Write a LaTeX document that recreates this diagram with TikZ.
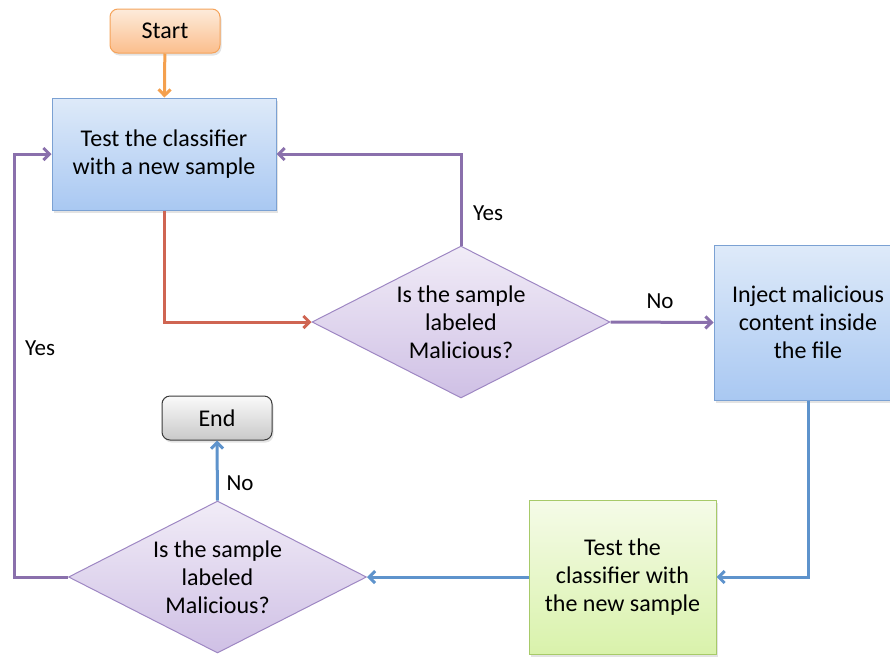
\documentclass[tikz,border=0pt]{standalone}
\usepackage{fontspec}
\setmainfont{Carlito}
\usetikzlibrary{shapes.geometric,arrows.meta,shadows}

\definecolor{orangeTop}{HTML}{FDEBDB}
\definecolor{orangeBot}{HTML}{FBBE8C}
\definecolor{orangeLine}{HTML}{F5A35A}
\definecolor{blueTop}{HTML}{DEEAF9}
\definecolor{blueBot}{HTML}{A9C8F2}
\definecolor{blueLine}{HTML}{7BA1D3}
\definecolor{lilacTop}{HTML}{F1ECF7}
\definecolor{lilacBot}{HTML}{CFC0E5}
\definecolor{lilacLine}{HTML}{9E87C3}
\definecolor{greenTop}{HTML}{F5FBE8}
\definecolor{greenBot}{HTML}{D9F2AB}
\definecolor{greenLine}{HTML}{A7CA69}
\definecolor{greyTop}{HTML}{FAFAFA}
\definecolor{greyBot}{HTML}{C9C9C9}
\definecolor{greyLine}{HTML}{3A3A3A}
\definecolor{flowOrange}{HTML}{F4A04E}
\definecolor{flowRed}{HTML}{CF6552}
\definecolor{flowPurple}{HTML}{8A70AC}
\definecolor{flowBlue}{HTML}{5E93CC}

\tikzset{
  every node/.style={font=\fontsize{24}{28}\selectfont, align=center},
  softshadow/.style={drop shadow={opacity=0.22, shadow xshift=1.5pt, shadow yshift=-2.5pt}},
  terminal/.style={rectangle, rounded corners=8pt, minimum width=110pt, minimum height=44pt,
    line width=1pt, softshadow},
  procbox/.style={rectangle, line width=1pt, softshadow, inner sep=4pt},
  decision/.style={diamond, minimum width=298pt, minimum height=152pt, inner sep=0pt,
    line width=1pt, draw=lilacLine, top color=lilacTop, bottom color=lilacBot},
  flow/.style={line width=3pt, -{Straight Barb[length=6pt,width=12pt]}},
  tag/.style={font=\fontsize{23}{27}\selectfont},
}

\begin{document}
\begin{tikzpicture}[x=1pt, y=-1pt]
  \useasboundingbox (0,0) rectangle (890,656);
  \begin{scope}
  \clip (0,0) rectangle (890,656);

  % terminals
  \node[terminal, draw=orangeLine, top color=orangeTop, bottom color=orangeBot] (start) at (165,31) {Start};
  \node[terminal, draw=greyLine, top color=greyTop, bottom color=greyBot] (finish) at (217,418) {End};

  % process steps
  \node[procbox, draw=blueLine, top color=blueTop, bottom color=blueBot,
        minimum width=224pt, minimum height=112pt] (test) at (164,154)
        {Test the classifier\\with a new sample};
  \node[procbox, draw=blueLine, top color=blueTop, bottom color=blueBot,
        minimum width=188pt, minimum height=155pt] (inject) at (808,322.5)
        {Inject malicious\\content inside\\the file};
  \node[procbox, draw=greenLine, top color=greenTop, bottom color=greenBot,
        minimum width=187pt, minimum height=154pt] (retest) at (622.5,577)
        {Test the\\classifier with\\the new sample};

  % decisions
  \node[decision] (check) at (461,322) {};
  \node (checktext) at (check.center) {Is the sample\\labeled\\Malicious?};
  \node[decision] (recheck) at (217.5,577) {};
  \node (rechecktext) at (recheck.center) {Is the sample\\labeled\\Malicious?};

  % connectors
  \draw[flow, flowOrange] (start) -- (test);
  \draw[flow, flowRed] (test.south) |- (check.west);
  \draw[flow, flowPurple] (check.north) |- (test.east);
  \draw[flow, flowPurple] (check.east) -- (inject.west);
  \draw[flow, flowBlue] (inject.south) |- (retest.east);
  \draw[flow, flowBlue] (retest.west) -- (recheck.east);
  \draw[flow, flowBlue] (recheck.north) -- (finish.south);
  \coordinate (leftrail) at (14,577);
  \draw[flow, flowPurple] (recheck.west) -- (leftrail) |- (test.west);

  % branch labels
  \node[tag] (yesTop) at (488,213) {Yes};
  \node[tag] (noRight) at (660,301) {No};
  \node[tag] (noEnd) at (240,483) {No};
  \node[tag] (yesLeft) at (40,348) {Yes};
  \end{scope}
\end{tikzpicture}
\end{document}
